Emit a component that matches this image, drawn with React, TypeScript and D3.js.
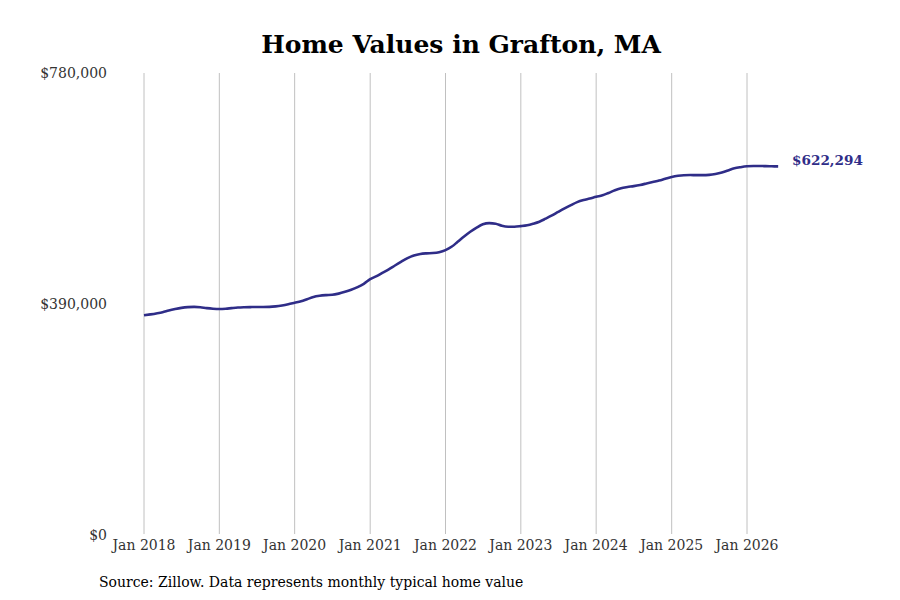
import * as d3 from 'd3';

const WIDTH = 900;
const HEIGHT = 600;

const TITLE = 'Home Values in Grafton, MA';
const SOURCE = 'Source: Zillow. Data represents monthly typical home value';
const LINE_COLOR = '#2f2d88';

// monthly typical home value, Jan 2018 .. Jun 2026
const START_YEAR = 2018;
const values2018 = [371000, 372500, 374000, 376000, 379000, 381500, 383500, 384800, 385200, 384500, 383000, 382000];
const values2019 = [381500, 382000, 383000, 384000, 384500, 384800, 385000, 385000, 385200, 386000, 387500, 389500];
const values2020 = [392000, 394500, 398000, 402000, 404000, 405000, 405500, 407500, 410500, 414000, 418500, 424000];
const values2021 = [432000, 437000, 442500, 448500, 455000, 461500, 467500, 472000, 474500, 475500, 476000, 477500];
const values2022 = [481000, 487000, 495000, 504000, 512000, 519000, 524500, 526500, 525500, 522000, 520500, 520500];
const values2023 = [521500, 523000, 525500, 529000, 534000, 539500, 545500, 551500, 557000, 562000, 565500, 568000];
const values2024 = [571000, 573500, 577500, 582000, 585500, 587500, 589000, 591000, 593500, 596000, 598500, 601500];
const values2025 = [604500, 606500, 607500, 607800, 607500, 607500, 608000, 609500, 612000, 615500, 619000, 621000];
const values2026 = [622500, 623000, 623000, 622800, 622500, 622294];

const yTicks = [0, 390000, 780000];
const xTickYears = [2018, 2019, 2020, 2021, 2022, 2023, 2024, 2025, 2026];

const allValues = [
  ...values2018, ...values2019, ...values2020, ...values2021, ...values2022,
  ...values2023, ...values2024, ...values2025, ...values2026,
];

const data = allValues.map((v, i) => ({
  date: new Date(START_YEAR + Math.floor(i / 12), i % 12, 1),
  value: v,
}));

const fmt = (v: number) => '$' + d3.format(',')(v);

export default function App() {
  const xScale = d3
    .scaleTime()
    .domain([new Date(2018, 0, 1), new Date(2026, 0, 1)])
    .range([144, 747]);

  const yScale = d3.scaleLinear().domain([0, 780000]).range([535, 73]);

  const line = d3
    .line<{ date: Date; value: number }>()
    .x((d) => xScale(d.date))
    .y((d) => yScale(d.value))
    .curve(d3.curveMonotoneX);

  const last = data[data.length - 1];

  return (
    <svg
      width={WIDTH}
      height={HEIGHT}
      style={{ position: 'absolute', left: 0, top: 0, background: '#fff' }}
      fontFamily="'DejaVu Serif', serif"
    >
      <text x={461} y={53} textAnchor="middle" fontSize={25} fontWeight="bold" fill="#000">
        {TITLE}
      </text>

      {xTickYears.map((yr) => {
        const x = xScale(new Date(yr, 0, 1));
        return (
          <g key={yr}>
            <line x1={x} x2={x} y1={73} y2={534} stroke="#c0c0c0" strokeWidth={1} />
            <text x={x} y={550} textAnchor="middle" fontSize={14} fill="#333">
              {'Jan ' + yr}
            </text>
          </g>
        );
      })}

      {yTicks.map((t) => (
        <text key={t} x={107} y={yScale(t) + 5} textAnchor="end" fontSize={14} fill="#333">
          {fmt(t)}
        </text>
      ))}

      <path d={line(data) ?? ''} fill="none" stroke={LINE_COLOR} strokeWidth={2.6} strokeLinejoin="round" />

      <text x={792} y={yScale(last.value) - 1} fontSize={13.6} fontWeight="bold" fill={LINE_COLOR}>
        {fmt(last.value)}
      </text>

      <text x={99} y={587} fontSize={14} fill="#000">
        {SOURCE}
      </text>
    </svg>
  );
}
